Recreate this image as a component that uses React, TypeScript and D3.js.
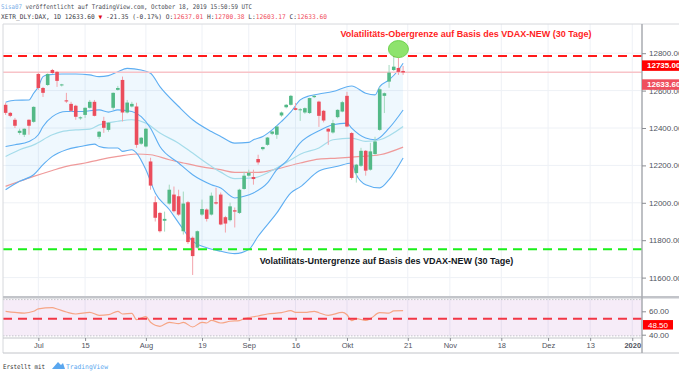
import { useEffect, useRef } from "react";
import * as d3 from "d3";

// [date, open, high, low, close]
type Candle = [string, number, number, number, number];
type Pt = [number, number]; // [bar index, value]

const candles: Candle[] = [
  ["06-20", 12524, 12535, 12470, 12481],
  ["06-21", 12481, 12486, 12458, 12465],
  ["06-24", 12444, 12454, 12400, 12412],
  ["06-25", 12374, 12396, 12364, 12385],
  ["06-26", 12364, 12398, 12352, 12396],
  ["06-27", 12444, 12446, 12364, 12412],
  ["06-28", 12433, 12516, 12428, 12513],
  ["07-01", 12689, 12695, 12604, 12614],
  ["07-02", 12614, 12620, 12566, 12588],
  ["07-03", 12630, 12692, 12625, 12689],
  ["07-04", 12710, 12716, 12690, 12694],
  ["07-05", 12700, 12704, 12620, 12652],
  ["07-08", 12628, 12636, 12622, 12633],
  ["07-09", 12548, 12588, 12534, 12542],
  ["07-10", 12529, 12540, 12486, 12492],
  ["07-11", 12519, 12524, 12444, 12460],
  ["07-12", 12452, 12462, 12444, 12457],
  ["07-15", 12470, 12510, 12454, 12508],
  ["07-16", 12508, 12550, 12504, 12540],
  ["07-17", 12540, 12550, 12462, 12465],
  ["07-18", 12353, 12384, 12342, 12380],
  ["07-19", 12438, 12460, 12374, 12401],
  ["07-22", 12390, 12430, 12380, 12428],
  ["07-23", 12508, 12590, 12497, 12588],
  ["07-24", 12604, 12625, 12600, 12614],
  ["07-25", 12657, 12675, 12435, 12483],
  ["07-26", 12483, 12550, 12478, 12536],
  ["07-29", 12515, 12540, 12510, 12529],
  ["07-30", 12515, 12535, 12294, 12310],
  ["07-31", 12316, 12352, 12310, 12348],
  ["08-01", 12301, 12400, 12296, 12396],
  ["08-02", 12221, 12241, 12070, 12092],
  ["08-05", 12003, 12035, 11900, 11920],
  ["08-06", 11946, 11950, 11841, 11848],
  ["08-07", 11904, 11953, 11846, 11914],
  ["08-08", 11996, 12097, 11990, 12070],
  ["08-09", 12044, 12087, 11948, 11955],
  ["08-12", 12035, 12070, 11930, 11937],
  ["08-13", 11848, 12060, 11830, 11996],
  ["08-14", 12003, 12010, 11780, 11790],
  ["08-15", 11813, 11820, 11614, 11715],
  ["08-16", 11760, 11852, 11755, 11848],
  ["08-19", 11937, 12017, 11930, 11967],
  ["08-20", 11964, 11970, 11900, 11914],
  ["08-21", 11937, 12055, 11932, 12038],
  ["08-22", 12003, 12081, 11990, 11996],
  ["08-23", 12044, 12055, 11880, 11884],
  ["08-26", 11923, 11930, 11841, 11889],
  ["08-27", 11907, 12001, 11900, 11981],
  ["08-28", 11960, 11975, 11868, 11953],
  ["08-29", 11946, 12075, 11940, 12070],
  ["08-30", 12074, 12166, 12070, 12145],
  ["09-02", 12145, 12177, 12140, 12160],
  ["09-03", 12138, 12177, 12097, 12127],
  ["09-04", 12234, 12257, 12204, 12216],
  ["09-05", 12287, 12300, 12280, 12298],
  ["09-06", 12310, 12352, 12305, 12349],
  ["09-09", 12369, 12384, 12362, 12381],
  ["09-10", 12364, 12412, 12342, 12408],
  ["09-11", 12467, 12488, 12460, 12483],
  ["09-12", 12511, 12528, 12505, 12524],
  ["09-13", 12524, 12577, 12520, 12572],
  ["09-16", 12506, 12534, 12494, 12497],
  ["09-17", 12495, 12506, 12438, 12500],
  ["09-18", 12483, 12510, 12476, 12506],
  ["09-19", 12480, 12562, 12475, 12560],
  ["09-20", 12565, 12577, 12560, 12572],
  ["09-23", 12541, 12546, 12406, 12465],
  ["09-24", 12492, 12497, 12430, 12440],
  ["09-25", 12396, 12400, 12310, 12381],
  ["09-26", 12376, 12444, 12370, 12426],
  ["09-27", 12458, 12500, 12452, 12497],
  ["09-30", 12488, 12545, 12484, 12538],
  ["10-01", 12572, 12593, 12404, 12408],
  ["10-02", 12373, 12378, 12124, 12133],
  ["10-04", 12159, 12208, 12108, 12204],
  ["10-07", 12198, 12294, 12192, 12278],
  ["10-08", 12278, 12282, 12145, 12172],
  ["10-09", 12177, 12321, 12172, 12275],
  ["10-10", 12261, 12353, 12256, 12328],
  ["10-11", 12390, 12620, 12385, 12607],
  ["10-14", 12572, 12590, 12480, 12586],
  ["10-15", 12648, 12737, 12615, 12696],
  ["10-16", 12710, 12785, 12705, 12728],
  ["10-17", 12721, 12850, 12684, 12700],
  ["10-18", 12705, 12732, 12684, 12697],
];

const bbUpper: Pt[] = [
  [0, 12538], [2, 12548], [5, 12550], [6, 12586], [7, 12621], [8, 12675], [9, 12684],
  [12, 12689], [15, 12689], [18, 12684], [20, 12675], [22, 12680], [24, 12701],
  [26, 12719], [29, 12710], [31, 12693], [33, 12621], [37, 12515], [40, 12444],
  [44, 12381], [46, 12355], [49, 12319], [52, 12323], [53, 12337], [55, 12355],
  [57, 12390], [59, 12435], [61, 12486], [63, 12550], [65, 12572], [67, 12582],
  [70, 12595], [74, 12625], [77, 12586], [79, 12577], [80, 12621], [82, 12657],
  [84, 12710], [85, 12746],
];

const bbBasis: Pt[] = [
  [0, 12301], [2, 12310], [5, 12328], [7, 12364], [8, 12408], [10, 12461], [13, 12488],
  [16, 12488], [20, 12497], [22, 12485], [24, 12497], [27, 12488], [29, 12461],
  [31, 12399], [33, 12301], [37, 12213], [40, 12150], [44, 12097], [46, 12079],
  [49, 12026], [51, 12035], [53, 12053], [56, 12106], [58, 12177], [60, 12221],
  [63, 12321], [67, 12385], [70, 12417], [73, 12426], [74, 12399], [77, 12346],
  [79, 12337], [82, 12399], [85, 12496],
];

const bbLower: Pt[] = [
  [0, 12070], [3, 12115], [6, 12150], [8, 12204], [10, 12248], [13, 12284], [16, 12301],
  [19, 12314], [20, 12301], [22, 12293], [24, 12293], [25, 12275], [27, 12284],
  [28, 12266], [30, 12177], [32, 12053], [35, 11964], [37, 11893], [40, 11795],
  [43, 11760], [46, 11741], [49, 11728], [52, 11750], [54, 11821], [58, 11946],
  [61, 12053], [63, 12085], [67, 12170], [71, 12195], [74, 12213], [75, 12150],
  [77, 12097], [80, 12080], [82, 12124], [85, 12240],
];

const emaLine: Pt[] = [
  [0, 12248], [3, 12284], [6, 12310], [10, 12364], [12, 12381], [15, 12390], [18, 12394],
  [20, 12417], [24, 12436], [27, 12444], [30, 12426], [33, 12373], [37, 12319],
  [40, 12266], [44, 12195], [46, 12164], [49, 12129], [53, 12133], [57, 12173],
  [61, 12230], [63, 12260], [67, 12293], [70, 12337], [74, 12346], [77, 12328],
  [80, 12337], [85, 12408],
];

const smaLine: Pt[] = [
  [0, 12088], [3, 12115], [6, 12141], [10, 12173], [13, 12195], [17, 12213], [20, 12230],
  [24, 12248], [28, 12261], [31, 12257], [35, 12230], [38, 12213], [42, 12192],
  [46, 12177], [49, 12163], [54, 12163], [58, 12181], [63, 12213], [67, 12234],
  [71, 12239], [76, 12248], [80, 12257], [85, 12298],
];

const rsiLine: Pt[] = [
  [0, 60.0], [2, 59.1], [4, 58.5], [6, 60.0], [7, 62.0], [10, 63.1], [11, 62.0],
  [13, 59.4], [15, 57.7], [18, 59.1], [20, 56.6], [22, 57.1], [24, 60.0], [25, 57.7],
  [27, 58.3], [28, 52.8], [29, 54.3], [30, 55.4], [31, 50.6], [33, 47.2], [35, 50.6],
  [37, 49.4], [38, 50.6], [40, 46.6], [42, 50.6], [43, 50.0], [44, 52.3], [46, 50.0],
  [48, 51.5], [50, 52.0], [51, 53.7], [54, 56.0], [56, 57.7], [59, 58.8], [61, 60.5],
  [62, 59.1], [64, 59.1], [66, 60.0], [67, 58.8], [69, 56.6], [72, 59.1], [73, 57.1],
  [74, 52.0], [75, 53.7], [77, 52.3], [78, 53.7], [80, 58.8], [82, 58.5], [83, 60.3],
  [85, 60.5],
];

const priceTicks = [11600, 11800, 12000, 12200, 12400, 12600, 12800];
const rsiTicks = [40, 60];
const rsiBand = [39, 70];
const rsiLevel = 53.7;
const timeTicks: [number, string][] = [
  [7, "Jul"], [17, "15"], [30, "Aug"], [42, "19"], [52, "Sep"], [62, "16"], [73, "Okt"],
  [86, "21"], [95, "Nov"], [106, "18"], [116, "Dez"], [125, "13"], [134, "2020"],
];

const upperLimit = 12785;
const lowerLimit = 11752;
const pinkLevel = 12698;
const tags = [
  { value: 12735, text: "12735.00", color: "#ff0000" },
  { value: 12633.6, text: "12633.60", color: "#ef4f5d" },
];

const W = 679;
const H = 373;
const pane = { left: 3, right: 642, top: 24, bottom: 296 };

export default function App() {
  const ref = useRef<SVGSVGElement>(null);

  useEffect(() => {
    const svg = d3.select(ref.current);
    svg.selectAll("*").remove();

    const x = d3.scaleLinear().domain([0, 85]).range([5.6, 403.1]);
    const y = d3.scaleLinear().domain([11600, 12800]).range([277.6, 53.2]);
    const ry = d3.scaleLinear().domain([40, 60]).range([334.7, 311.3]);

    svg.append("rect").attr("width", W).attr("height", H).attr("fill", "#fff");

    const defs = svg.append("defs");
    defs
      .append("clipPath")
      .attr("id", "mainclip")
      .append("rect")
      .attr("x", pane.left)
      .attr("y", pane.top)
      .attr("width", pane.right - pane.left)
      .attr("height", pane.bottom - pane.top);

    // grid
    const grid = svg.append("g");
    grid
      .selectAll(".vg")
      .data(timeTicks)
      .enter()
      .append("line")
      .attr("x1", d => x(d[0]))
      .attr("x2", d => x(d[0]))
      .attr("y1", pane.top)
      .attr("y2", 338)
      .attr("stroke", "#eef1f6");
    grid
      .selectAll(".hg")
      .data(priceTicks)
      .enter()
      .append("line")
      .attr("x1", pane.left)
      .attr("x2", pane.right)
      .attr("y1", d => y(d))
      .attr("y2", d => y(d))
      .attr("stroke", "#eef1f6");

    const main = svg.append("g").attr("clip-path", "url(#mainclip)");

    const line = d3
      .line<Pt>()
      .x(d => x(d[0]))
      .y(d => y(d[1]))
      .curve(d3.curveMonotoneX);
    const flat = d3
      .line<Pt>()
      .x(d => x(d[0]))
      .y(d => y(d[1]));

    // bollinger fill
    const fillPath =
      (flat(bbUpper) as string) +
      (flat(bbLower.slice().reverse()) as string).replace(/^M/, "L") +
      "Z";
    main.append("path").attr("d", fillPath).attr("fill", "#2196f3").attr("opacity", 0.07);

    main
      .append("path")
      .attr("d", line(smaLine))
      .attr("fill", "none")
      .attr("stroke", "#ef9a9a")
      .attr("stroke-width", 1.2);
    main
      .append("path")
      .attr("d", line(emaLine))
      .attr("fill", "none")
      .attr("stroke", "#a5dcea")
      .attr("stroke-width", 1.2);
    [bbUpper, bbBasis, bbLower].forEach(s => {
      main
        .append("path")
        .attr("d", line(s))
        .attr("fill", "none")
        .attr("stroke", "#5eaef2")
        .attr("stroke-width", 1.1);
    });

    // pink level
    main
      .append("line")
      .attr("x1", pane.left)
      .attr("x2", pane.right)
      .attr("y1", y(pinkLevel))
      .attr("y2", y(pinkLevel))
      .attr("stroke", "#f8c3c8")
      .attr("stroke-width", 1.6);

    // candles
    const up = "#53b987";
    const down = "#eb4d5c";
    const cg = main.selectAll(".candle").data(candles).enter().append("g");
    cg.append("line")
      .attr("x1", (_, i) => x(i))
      .attr("x2", (_, i) => x(i))
      .attr("y1", d => y(d[2]))
      .attr("y2", d => y(d[3]))
      .attr("stroke", d => (d[4] >= d[1] ? "#a3d9bf" : "#f3a3ab"))
      .attr("stroke-width", 1);
    cg.append("rect")
      .attr("x", (_, i) => x(i) - 1.8)
      .attr("width", 3.6)
      .attr("y", d => y(Math.max(d[1], d[4])))
      .attr("height", d => Math.max(1, Math.abs(y(d[1]) - y(d[4]))))
      .attr("fill", d => (d[4] >= d[1] ? up : down));

    // volatility limits
    main
      .append("line")
      .attr("x1", pane.left)
      .attr("x2", pane.right)
      .attr("y1", y(upperLimit))
      .attr("y2", y(upperLimit))
      .attr("stroke", "#ff1a1a")
      .attr("stroke-width", 2)
      .attr("stroke-dasharray", "9 6");
    main
      .append("line")
      .attr("x1", pane.left)
      .attr("x2", pane.right)
      .attr("y1", y(lowerLimit))
      .attr("y2", y(lowerLimit))
      .attr("stroke", "#1aef1a")
      .attr("stroke-width", 2)
      .attr("stroke-dasharray", "9 6");

    main
      .append("ellipse")
      .attr("cx", x(84))
      .attr("cy", y(12822))
      .attr("rx", 10)
      .attr("ry", 8.5)
      .attr("fill", "#8ee36d")
      .attr("stroke", "#6fd350")
      .attr("stroke-width", 1);

    main
      .append("text")
      .attr("x", 466)
      .attr("y", y(12800) - 16)
      .attr("text-anchor", "middle")
      .attr("font-family", "Liberation Sans, Arial, sans-serif")
      .attr("font-weight", "bold")
      .attr("font-size", 9)
      .attr("fill", "#ff1f1f")
      .text("Volatilitäts-Obergrenze auf Basis des VDAX-NEW (30 Tage)");
    main
      .append("text")
      .attr("x", 386.5)
      .attr("y", y(lowerLimit) + 14.5)
      .attr("text-anchor", "middle")
      .attr("font-family", "Liberation Sans, Arial, sans-serif")
      .attr("font-weight", "bold")
      .attr("font-size", 9)
      .attr("fill", "#131722")
      .text("Volatilitäts-Untergrenze auf Basis des VDAX-NEW (30 Tage)");

    // RSI pane
    svg
      .append("rect")
      .attr("x", pane.left)
      .attr("width", pane.right - pane.left)
      .attr("y", ry(rsiBand[1]))
      .attr("height", ry(rsiBand[0]) - ry(rsiBand[1]))
      .attr("fill", "#9c27b0")
      .attr("opacity", 0.09);
    rsiBand.forEach(v => {
      svg
        .append("line")
        .attr("x1", pane.left)
        .attr("x2", pane.right)
        .attr("y1", ry(v))
        .attr("y2", ry(v))
        .attr("stroke", "#c3c3c8")
        .attr("stroke-dasharray", "1.5 1.5");
    });
    svg
      .append("path")
      .attr(
        "d",
        d3
          .line<Pt>()
          .x(d => x(d[0]))
          .y(d => ry(d[1]))
          .curve(d3.curveMonotoneX)(rsiLine)
      )
      .attr("fill", "none")
      .attr("stroke", "#f6a585")
      .attr("stroke-width", 1.2);
    svg
      .append("line")
      .attr("x1", pane.left)
      .attr("x2", pane.right)
      .attr("y1", ry(rsiLevel))
      .attr("y2", ry(rsiLevel))
      .attr("stroke", "#f23645")
      .attr("stroke-width", 2)
      .attr("stroke-dasharray", "9 6");

    // frames
    const frame = "#c2c4c9";
    svg.append("line").attr("x1", pane.left).attr("x2", W).attr("y1", pane.top).attr("y2", pane.top).attr("stroke", "#d6d8dc");
    svg.append("line").attr("x1", pane.left).attr("x2", pane.left).attr("y1", pane.top).attr("y2", 353).attr("stroke", "#d6d8dc");
    svg.append("rect").attr("x", pane.left).attr("width", W - pane.left).attr("y", 296).attr("height", 2.5).attr("fill", frame);
    svg.append("line").attr("x1", pane.left).attr("x2", pane.right).attr("y1", 338).attr("y2", 338).attr("stroke", frame);
    svg.append("line").attr("x1", pane.left).attr("x2", W).attr("y1", 353).attr("y2", 353).attr("stroke", frame);
    svg.append("line").attr("x1", pane.right).attr("x2", pane.right).attr("y1", pane.top).attr("y2", 353).attr("stroke", "#a9abb0").attr("stroke-width", 1.5);

    const axisFont = "Liberation Sans, Arial, sans-serif";
    // price axis
    const pa = svg
      .append("g")
      .attr("transform", `translate(${pane.right},0)`)
      .call(d3.axisRight(y).tickValues(priceTicks).tickFormat(d3.format(".2f")).tickSize(4).tickPadding(3));
    pa.select(".domain").remove();
    pa.selectAll("line").attr("stroke", "#8a8d93");
    pa.selectAll("text").attr("font-family", axisFont).attr("font-size", 8).attr("fill", "#50535e");

    const ra = svg
      .append("g")
      .attr("transform", `translate(${pane.right},0)`)
      .call(d3.axisRight(ry).tickValues(rsiTicks).tickFormat(d3.format(".2f")).tickSize(4).tickPadding(3));
    ra.select(".domain").remove();
    ra.selectAll("line").attr("stroke", "#8a8d93");
    ra.selectAll("text").attr("font-family", axisFont).attr("font-size", 8).attr("fill", "#50535e");

    // price tags
    tags.forEach(t => {
      svg.append("rect").attr("x", pane.right).attr("y", y(t.value) - 5).attr("width", W - pane.right).attr("height", 10.5).attr("fill", t.color);
      svg.append("text").attr("x", 647).attr("y", y(t.value) + 3).attr("font-family", axisFont).attr("font-weight", "bold").attr("font-size", 8).attr("fill", "#fff").text(t.text);
    });
    svg.append("rect").attr("x", pane.right + 1).attr("y", ry(48.5) - 4.7).attr("width", 30).attr("height", 9.5).attr("fill", "#ff0000");
    svg.append("text").attr("x", 648).attr("y", ry(48.5) + 3).attr("font-family", axisFont).attr("font-size", 8).attr("fill", "#fff").text("48.50");

    // time axis
    const ta = svg
      .append("g")
      .attr("transform", "translate(0,338)")
      .call(
        d3
          .axisBottom(x)
          .tickValues(timeTicks.map(d => d[0]))
          .tickFormat((d, i) => timeTicks[i][1])
          .tickSize(3)
          .tickPadding(2)
      );
    ta.select(".domain").remove();
    ta.selectAll("line").attr("stroke", "#8a8d93");
    ta.selectAll("text")
      .attr("font-family", axisFont)
      .attr("font-size", 7.5)
      .attr("fill", "#50535e")
      .attr("font-weight", (_, i) => (i === timeTicks.length - 1 ? "bold" : "normal"));

    // header
    const mono = "DejaVu Sans Mono, monospace";
    const h1 = svg.append("text").attr("x", 1).attr("y", 9).attr("font-family", mono).attr("font-size", 6.5).attr("textLength", 251).attr("lengthAdjust", "spacingAndGlyphs").attr("fill", "#4a4d55");
    h1.append("tspan").attr("fill", "#7aaee8").text("Sisa07");
    h1.append("tspan").text(" veröffentlicht auf TradingView.com, October 18, 2019 15:50:59 UTC");

    const h2 = svg.append("text").attr("x", 1).attr("y", 19).attr("font-family", mono).attr("font-size", 6.5).attr("textLength", 326).attr("lengthAdjust", "spacingAndGlyphs").attr("fill", "#3d4048");
    const red = "#ef4f5d";
    const parts: [string, string | null][] = [
      ["XETR_DLY:DAX, 1D 12633.60 ", null],
      ["▼", "#e01010"],
      [" -21.35 (-0.17%) O:", null],
      ["12637.01", red],
      [" H:", null],
      ["12700.38", red],
      [" L:", null],
      ["12603.17", red],
      [" C:", null],
      ["12633.60", red],
    ];
    parts.forEach(([t, c]) => {
      const ts = h2.append("tspan").text(t);
      if (c) ts.attr("fill", c);
    });

    // footer
    svg.append("text").attr("x", 3).attr("y", 369).attr("font-family", mono).attr("font-size", 6.5).attr("textLength", 42).attr("lengthAdjust", "spacingAndGlyphs").attr("fill", "#333").text("Erstellt mit");
    svg
      .append("path")
      .attr("d", "M52,369 L58,362 L61,365 L63,363 L65,369 Z")
      .attr("fill", "#5aa7ef");
    svg.append("text").attr("x", 66).attr("y", 369).attr("font-family", mono).attr("font-size", 6.5).attr("textLength", 42).attr("lengthAdjust", "spacingAndGlyphs").attr("fill", "#5aa7ef").text("TradingView");
  }, []);

  return (
    <svg
      ref={ref}
      width={W}
      height={H}
      style={{ position: "absolute", left: 0, top: 0, display: "block" }}
    />
  );
}
